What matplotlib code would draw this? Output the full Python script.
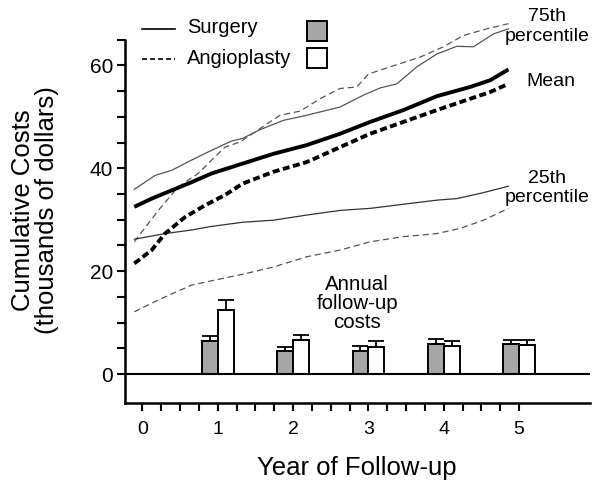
import numpy as np
import matplotlib
matplotlib.use('Agg')
import matplotlib.pyplot as plt
from matplotlib.patches import Rectangle
from matplotlib.lines import Line2D

plt.rcParams['font.family'] = ['Liberation Sans', 'DejaVu Sans']

# cumulative cost curves (thousands of dollars)
surg_mean_x = [-0.106, 0.125, 0.39, 0.656, 0.921, 1.33, 1.739, 2.182, 2.624, 3.022, 3.464, 3.908, 4.35, 4.615, 4.858]
surg_mean_y = [32.5, 34.1, 35.7, 37.3, 39.0, 40.9, 42.8, 44.5, 46.7, 49.0, 51.3, 54.0, 55.8, 57.1, 59.2]

angio_mean_x = [-0.106, 0.125, 0.301, 0.567, 0.832, 1.098, 1.33, 1.739, 2.182, 2.624, 3.022, 3.464, 3.908, 4.35, 4.615, 4.858]
angio_mean_y = [21.5, 24.1, 27.3, 30.5, 32.8, 34.8, 37.0, 39.3, 41.2, 44.1, 46.7, 49.0, 51.3, 53.5, 54.8, 56.4]

surg_p75_x = [-0.106, 0.169, 0.39, 0.656, 0.921, 1.187, 1.33, 1.562, 1.871, 2.182, 2.624, 2.933, 3.155, 3.377, 3.642, 3.908, 4.173, 4.393, 4.659, 4.858]
surg_p75_y = [35.9, 38.6, 39.6, 41.6, 43.5, 45.3, 45.8, 47.5, 49.3, 50.3, 51.9, 54.2, 55.6, 56.4, 59.7, 62.2, 63.7, 63.6, 66.1, 67.1]

angio_p75_x = [-0.106, 0.212, 0.478, 0.743, 0.921, 1.098, 1.297, 1.562, 1.828, 2.093, 2.358, 2.624, 2.846, 3.0, 3.287, 3.686, 3.995, 4.261, 4.571, 4.858]
angio_p75_y = [25.7, 31.8, 36.4, 39.0, 41.6, 44.1, 45.1, 47.7, 50.3, 51.1, 53.5, 55.5, 55.8, 58.3, 59.7, 61.6, 63.6, 65.8, 67.1, 68.1]

surg_p25_x = [-0.106, 0.301, 0.656, 0.921, 1.33, 1.739, 2.182, 2.624, 3.022, 3.464, 3.908, 4.173, 4.482, 4.858]
surg_p25_y = [26.2, 27.3, 28.0, 28.7, 29.5, 29.9, 30.9, 31.8, 32.2, 33.0, 33.8, 34.1, 35.1, 36.5]

angio_p25_x = [-0.106, 0.212, 0.656, 1.009, 1.363, 1.739, 2.182, 2.624, 3.022, 3.464, 3.908, 4.217, 4.526, 4.858]
angio_p25_y = [12.1, 14.4, 17.3, 18.4, 19.5, 20.8, 22.8, 24.1, 25.7, 26.7, 27.3, 28.3, 29.9, 32.2]

# annual follow-up costs (bars) with upper error
years = [1, 2, 3, 4, 5]
surg_annual = [6.4, 4.5, 4.5, 5.9, 5.8]
surg_err = [1.0, 0.8, 0.9, 1.0, 0.9]
angio_annual = [12.5, 6.6, 5.3, 5.4, 5.6]
angio_err = [1.9, 1.0, 1.1, 1.1, 1.0]

fig = plt.figure(figsize=(6.0, 4.83), dpi=100)
ax = fig.add_axes([0.2083, 0.1656, 0.775, 0.7524])

thin_col = '#555555'
# thin percentile lines
ax.plot(surg_p75_x, surg_p75_y, color=thin_col, lw=0.9, clip_on=False)
ax.plot(angio_p75_x, angio_p75_y, color=thin_col, lw=0.9, dashes=(5, 3), clip_on=False)
ax.plot(surg_p25_x, surg_p25_y, color='#333333', lw=0.9)
ax.plot(angio_p25_x, angio_p25_y, color=thin_col, lw=0.9, dashes=(5, 3))
# thick mean lines
ax.plot(surg_mean_x, surg_mean_y, color='black', lw=2.8, solid_capstyle='butt')
ax.plot(angio_mean_x, angio_mean_y, color='black', lw=2.8, dashes=(1.8, 0.9))

# bars
w = 0.21
xs = np.array(years, dtype=float)
ax.bar(xs - w / 2, surg_annual, width=w, color='#a6a6a6', edgecolor='black', linewidth=1.4, zorder=3)
ax.bar(xs + w / 2, angio_annual, width=w, color='white', edgecolor='black', linewidth=1.4, zorder=3)
ax.errorbar(xs - w / 2, surg_annual, yerr=[np.zeros(5), surg_err], fmt='none', ecolor='black',
            elinewidth=1.3, capsize=5.5, capthick=1.3, zorder=4)
ax.errorbar(xs + w / 2, angio_annual, yerr=[np.zeros(5), angio_err], fmt='none', ecolor='black',
            elinewidth=1.3, capsize=5.5, capthick=1.3, zorder=4)

# zero line
ax.axhline(0, color='black', lw=1.5, zorder=5)

# axes styling
ax.set_xlim(-0.23, 5.94)
ax.set_ylim(-5.63, 65)
for s in ['top', 'right']:
    ax.spines[s].set_visible(False)
ax.spines['left'].set_linewidth(1.8)
ax.spines['bottom'].set_linewidth(1.8)
ax.set_xticks(np.arange(0, 5.01, 0.25))
ax.set_xticklabels([str(int(v)) if v == int(v) else '' for v in np.arange(0, 5.01, 0.25)])
ax.set_yticks(np.arange(0, 65.1, 5))
ax.set_yticklabels([str(int(v)) if v % 20 == 0 else '' for v in np.arange(0, 65.1, 5)])
ax.tick_params(axis='x', direction='out', length=6, width=1.5, pad=7, labelsize=14)
ax.tick_params(axis='y', direction='out', length=5.5, width=1.5, pad=3, labelsize=15)

# annotations
ax.text(5.37, 67.6, '75th\npercentile', ha='center', va='center', fontsize=14, linespacing=1.2, clip_on=False)
ax.text(5.42, 56.8, 'Mean', ha='center', va='center', fontsize=14, clip_on=False)
ax.text(5.37, 36.2, '25th\npercentile', ha='center', va='center', fontsize=14, linespacing=1.15, clip_on=False)
ax.text(2.85, 13.8, 'Annual\nfollow-up\ncosts', ha='center', va='center', fontsize=14.8, linespacing=1.0)

# legend drawn by hand
ax.add_line(Line2D([0.0, 0.44], [67.0, 67.0], color='black', lw=1.2, clip_on=False))
ax.add_line(Line2D([0.0, 0.44], [61.3, 61.3], color='black', lw=1.2, dashes=(3, 1.8), clip_on=False))
ax.text(0.59, 67.3, 'Surgery', ha='left', va='center', fontsize=14.5, clip_on=False)
ax.text(0.59, 61.4, 'Angioplasty', ha='left', va='center', fontsize=14.5, clip_on=False)
ax.add_patch(Rectangle((2.19, 64.8), 0.265, 3.9, facecolor='#a6a6a6', edgecolor='black', lw=1.4, clip_on=False))
ax.add_patch(Rectangle((2.19, 59.4), 0.265, 3.9, facecolor='white', edgecolor='black', lw=1.4, clip_on=False))

fig.text(0.058, 0.565, 'Cumulative Costs\n(thousands of dollars)', rotation=90, ha='center', va='center',
         fontsize=18.5, linespacing=1.0)
fig.text(0.595, 0.031, 'Year of Follow-up', ha='center', va='center', fontsize=18.5)

fig.savefig('out.png', dpi=100)
